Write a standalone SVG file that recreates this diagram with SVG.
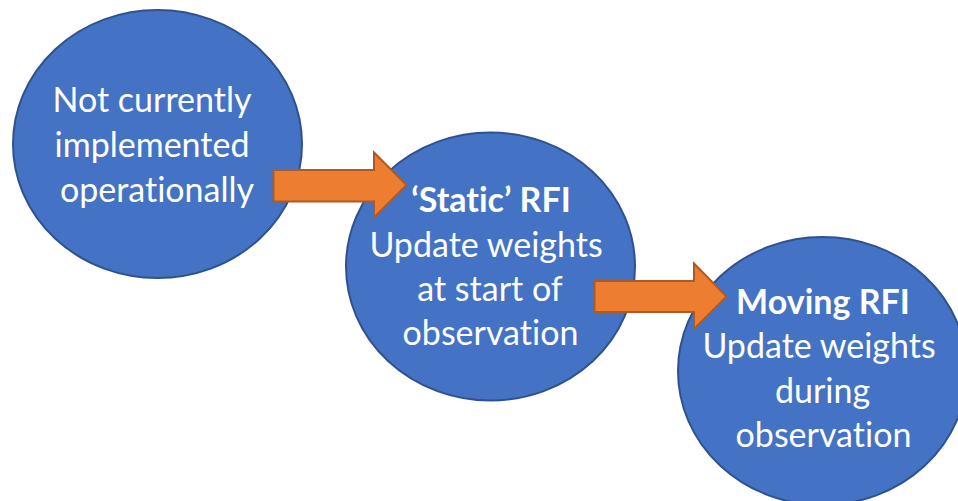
<svg xmlns="http://www.w3.org/2000/svg" width="958" height="501" viewBox="0 0 958 501">
  <style>
    .node { fill: #4472C4; stroke: #2F528F; stroke-width: 2; }
    .arrow { fill: #ED7D31; stroke: #AE5A21; stroke-width: 2; stroke-linejoin: miter; }
    .label { font-family: Lato, "Open Sans", "Liberation Sans", sans-serif; font-size: 34px; fill: #FFFFFF; text-anchor: middle; font-variant-ligatures: none; font-feature-settings: "liga" 0, "clig" 0; }
    .bold { font-weight: bold; }
  </style>
  <rect width="958" height="501" fill="#FFFFFF"/>

  <g id="node-not-implemented">
    <ellipse class="node" cx="157.5" cy="144" rx="144.5" ry="134"/>
    <text class="label" x="152" y="112">Not currently</text>
    <text class="label" x="152" y="157">implemented</text>
    <text class="label" x="157" y="202">operationally</text>
  </g>

  <g id="node-static-rfi">
    <ellipse class="node" cx="490.5" cy="266.5" rx="144.5" ry="134"/>
    <text class="label bold" x="491" y="212">‘Static’ RFI</text>
    <text class="label" x="486" y="257">Update weights</text>
    <text class="label" x="490" y="301">at start of</text>
    <text class="label" x="490.5" y="345">observation</text>
  </g>

  <g id="node-moving-rfi">
    <ellipse class="node" cx="822.5" cy="371" rx="144.5" ry="134"/>
    <text class="label bold" x="823" y="314">Moving RFI</text>
    <text class="label" x="819" y="358">Update weights</text>
    <text class="label" x="822.5" y="403">during</text>
    <text class="label" x="823.5" y="447">observation</text>
  </g>

  <g id="connectors">
    <polygon class="arrow" points="273.5,170 374,170 374,152.5 406.5,185 374,217.5 374,201.5 273.5,201.5"/>
    <polygon class="arrow" points="594.5,281 694,281 694,263.5 726.5,296.5 694,329 694,312 594.5,312"/>
  </g>
</svg>
